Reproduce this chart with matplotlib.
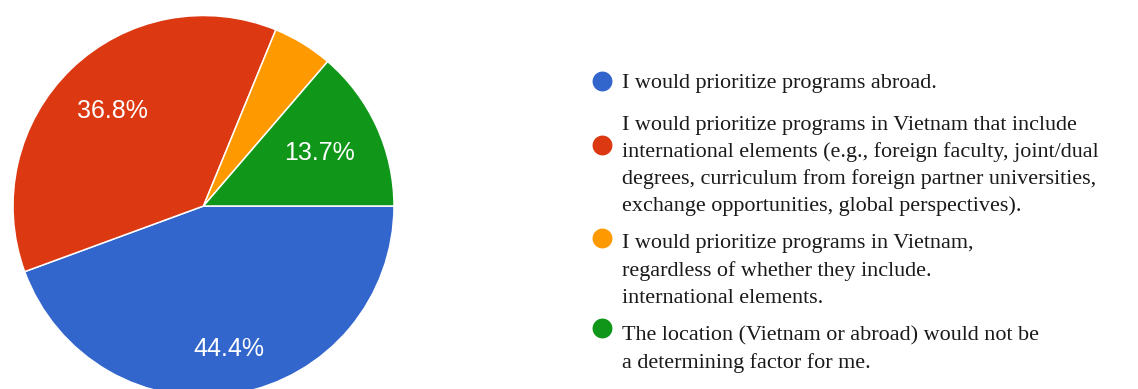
import matplotlib
matplotlib.use("Agg")
import matplotlib.pyplot as plt
import numpy as np

# ---------------------------------------------------------------------------
# Data
# ---------------------------------------------------------------------------
shares = [44.4, 36.8, 5.1, 13.7]
colors = ["#3366cc", "#dc3912", "#ff9900", "#109618"]
labels = [
    ["I would prioritize programs abroad."],
    ["I would prioritize programs in Vietnam that include",
     "international elements (e.g., foreign faculty, joint/dual",
     "degrees, curriculum from foreign partner universities,",
     "exchange opportunities, global perspectives)."],
    ["I would prioritize programs in Vietnam,",
     "regardless of whether they include.",
     "international elements."],
    ["The location (Vietnam or abroad) would not be",
     "a determining factor for me."],
]

# layout (pixels)
W, H = 1138, 389
PIE_CX, PIE_CY, PIE_R = 203.5, 206, 190.5
label_dist = [0.76, 0.69, 0.0, 0.67]   # 0 -> no label (slice too small)
text_x = 622
circle_x = 602
baselines = [[88], [130, 157, 184, 211], [248, 276, 303], [340, 368]]
circle_y = [81, 145, 238, 328]

fig = plt.figure(figsize=(W / 100, H / 100), dpi=100)
fig.patch.set_facecolor("white")

# ── legend (drawn by hand, Google Forms style) ────────────────────────────
lax = fig.add_axes([0, 0, 1, 1])
lax.set_xlim(0, W)
lax.set_ylim(H, 0)
lax.axis("off")
for i, lines in enumerate(labels):
    lax.scatter([circle_x], [circle_y[i]], s=205, color=colors[i], linewidths=0)
    for line, y in zip(lines, baselines[i]):
        lax.text(text_x, y, line, fontsize=15.9, family="Liberation Serif",
                 color="#1a1a1a", va="baseline", ha="left")

# ── pie ───────────────────────────────────────────────────────────────────
ax = fig.add_axes([(PIE_CX - PIE_R) / W, (H - PIE_CY - PIE_R) / H,
                   2 * PIE_R / W, 2 * PIE_R / H])
wedges, _ = ax.pie(shares, colors=colors, startangle=0, counterclock=False,
                   radius=1, wedgeprops=dict(edgecolor="white", linewidth=1.1))
ax.set_xlim(-1, 1)
ax.set_ylim(-1, 1)
ax.set_aspect("equal")
ax.axis("off")

for w, v, d in zip(wedges, shares, label_dist):
    if d <= 0:
        continue
    ang = np.deg2rad((w.theta1 + w.theta2) / 2)
    ax.text(d * np.cos(ang), d * np.sin(ang), f"{v:.1f}%", color="white",
            fontsize=18, family="Liberation Sans", ha="center", va="center")

fig.savefig("out.png", dpi=100, facecolor="white")
